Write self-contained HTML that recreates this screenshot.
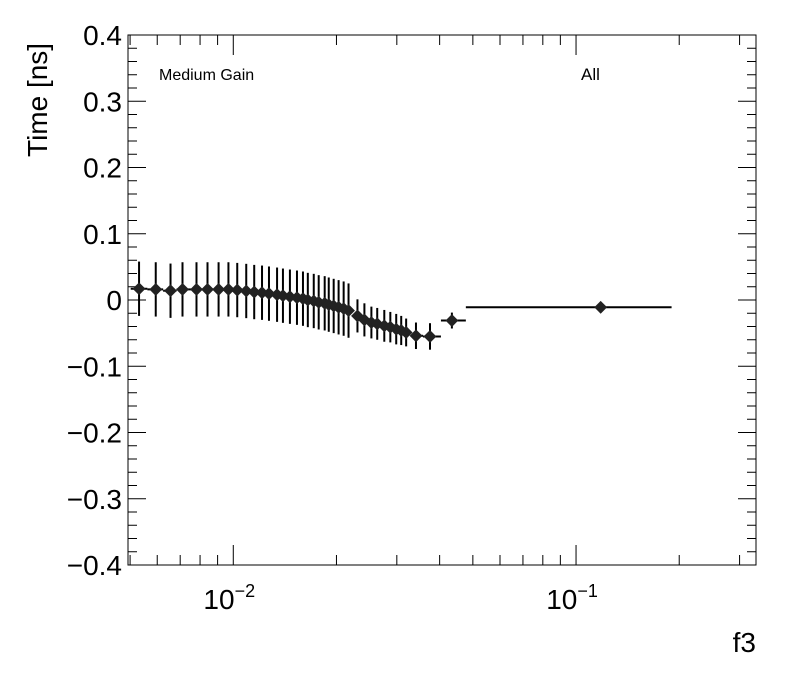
<!DOCTYPE html>
<html><head><meta charset="utf-8"><style>
body{margin:0;background:#fff;}
svg text{font-family:"Liberation Sans",sans-serif;fill:#000;}
</style></head><body>
<svg id="chart" width="796" height="672" xmlns="http://www.w3.org/2000/svg">
<rect x="128" y="35" width="628" height="530" fill="none" stroke="#000" stroke-width="1"/>
<g id="axes"></g>
<g id="marks"></g>
<text transform="translate(47,157) rotate(-90)" font-size="28" text-anchor="start" x="0" y="0">Time [ns]</text>
<text x="756" y="652" font-size="28" text-anchor="end">f3</text>
<text x="159" y="80" font-size="16">Medium Gain</text>
<text x="581" y="80" font-size="17">All</text>
</svg>
<script>
const xVals=[0.00531,0.00594,0.00656,0.00711,0.00781,0.00841,0.00906,0.00968,0.01027,0.01091,0.01151,0.01213,0.01271,0.01342,0.01396,0.01463,0.01534,0.01597,0.01650,0.01717,0.01775,0.01848,0.01899,0.01963,0.02029,0.02099,0.02169,0.02303,0.02413,0.02529,0.02630,0.02758,0.02872,0.02988,0.03090,0.03194,0.03412,0.03749,0.04343,0.1180];
const yVals=[0.017,0.016,0.014,0.016,0.016,0.016,0.016,0.016,0.015,0.0136,0.012,0.011,0.0096,0.008,0.0065,0.005,0.0035,0.002,0,-0.0015,-0.0035,-0.005,-0.007,-0.009,-0.011,-0.013,-0.016,-0.024,-0.030,-0.034,-0.036,-0.039,-0.041,-0.044,-0.046,-0.049,-0.054,-0.055,-0.031,-0.011];
const yErr=[0.041,0.041,0.041,0.041,0.041,0.041,0.041,0.041,0.041,0.041,0.041,0.041,0.041,0.041,0.041,0.041,0.041,0.041,0.041,0.041,0.041,0.041,0.041,0.041,0.041,0.041,0.041,0.025,0.025,0.024,0.024,0.024,0.023,0.023,0.022,0.021,0.02,0.02,0.012,0.006];
const lastBin=[0.0477,0.190];
const yTicks=[-0.4,-0.3,-0.2,-0.1,0,0.1,0.2,0.3,0.4];
const yTickLabels=["\u22120.4","\u22120.3","\u22120.2","\u22120.1","0","0.1","0.2","0.3","0.4"];
const NS="http://www.w3.org/2000/svg";
const L=128,R=756,T=35,B=565,lx0=Math.log10(0.00493),lx1=Math.log10(0.335);
const X=v=>L+(Math.log10(v)-lx0)/(lx1-lx0)*(R-L);
const Y=v=>B-(v+0.4)/0.8*(B-T);
const axes=document.getElementById('axes'),marks=document.getElementById('marks');
function ln(p,x1,y1,x2,y2,w){const e=document.createElementNS(NS,'line');e.setAttribute('x1',x1);e.setAttribute('y1',y1);e.setAttribute('x2',x2);e.setAttribute('y2',y2);e.setAttribute('stroke','#000');e.setAttribute('stroke-width',w||1);p.appendChild(e);return e;}
for(let i=0;i<=40;i++){const v=-0.4+i*0.02;const y=Y(v);const maj=i%5===0;const len=maj?18:9;
const a=ln(axes,L,y,L+len,y);
const b=ln(axes,R,y,R-len,y);}
yTicks.forEach((v,i)=>{const t=document.createElementNS(NS,'text');t.setAttribute('x',122);t.setAttribute('y',Y(v)+10);t.setAttribute('text-anchor','end');t.setAttribute('font-size','28');t.textContent=yTickLabels[i];


axes.appendChild(t);});
for(let d=-3;d<=-1;d++){for(let m=1;m<=9;m++){const v=m*Math.pow(10,d);if(v<0.00493||v>0.335)continue;const x=X(v);const len=m===1?20:10;
const a=ln(axes,x,B,x,B-len);
const b=ln(axes,x,T,x,T+len);}}
[[-2,0.01],[-1,0.1]].forEach(([e,v])=>{const t=document.createElementNS(NS,'text');t.setAttribute('x',X(v)-4);t.setAttribute('y',609);t.setAttribute('text-anchor','middle');t.setAttribute('font-size','28');
t.innerHTML='10<tspan dy="-12" font-size="18">\u2212'+(-e)+'</tspan>';


axes.appendChild(t);});
const n=xVals.length;
xVals.forEach((v,i)=>{let lo,hi;
if(i===n-1){lo=lastBin[0];hi=lastBin[1];}
else{const prev=i>0?xVals[i-1]:v*v/xVals[i+1];const next=(i+1<n-1)?xVals[i+1]:v*v/prev;
lo=Math.sqrt(prev*v);hi=Math.sqrt(v*next);if(i===n-2){hi=lastBin[0];}}
const x=X(v),y=Y(yVals[i]);
const g=document.createElementNS(NS,'g');


ln(g,X(lo),y,X(hi),y,2);
ln(g,x,Y(yVals[i]+yErr[i]),x,Y(yVals[i]-yErr[i]),2);
const c=document.createElementNS(NS,'path');c.setAttribute('d',`M${x-5},${y}L${x},${y-5}L${x+5},${y}L${x},${y+5}Z`);c.setAttribute('fill','#222');c.setAttribute('stroke','#222');c.setAttribute('stroke-width','2');g.appendChild(c);
marks.appendChild(g);});
</script>
</body></html>
